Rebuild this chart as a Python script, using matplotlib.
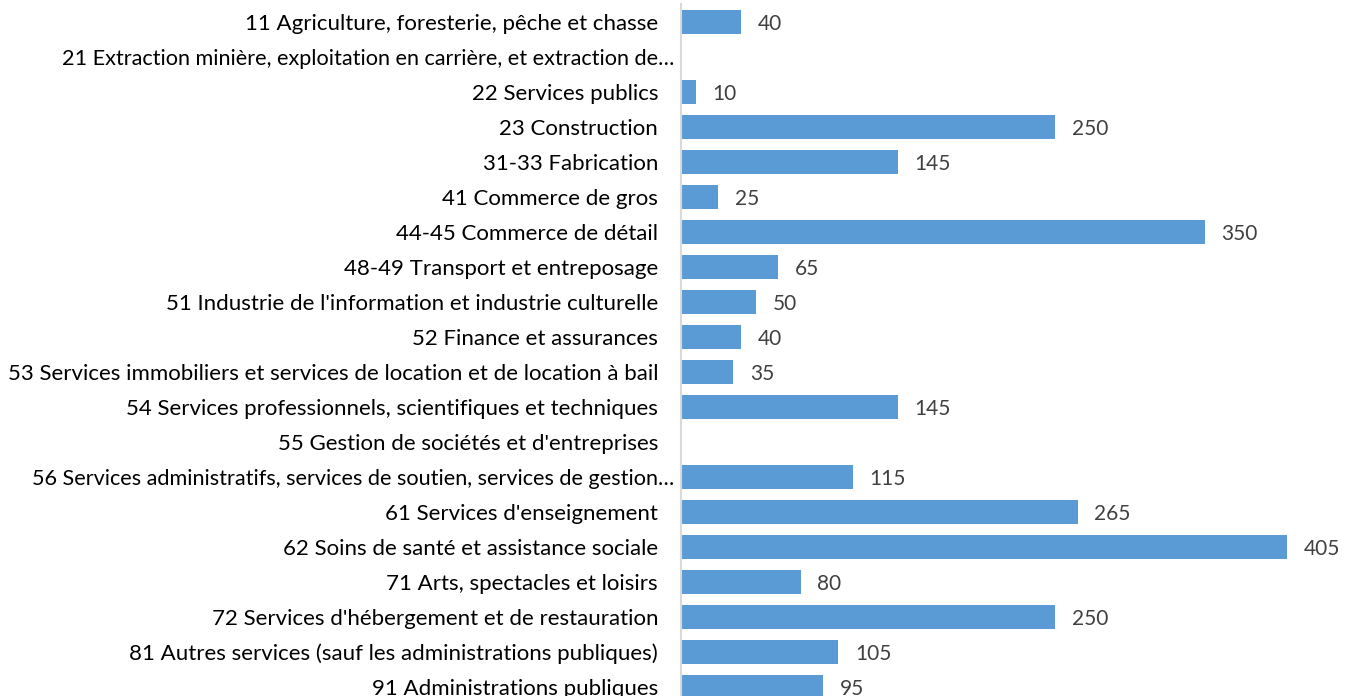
import matplotlib.pyplot as plt
from matplotlib.transforms import offset_copy

plt.rcParams["font.family"] = ["Lato", "DejaVu Sans"]

categories = [
    "11 Agriculture, foresterie, pêche et chasse",
    "21 Extraction minière, exploitation en carrière, et extraction de…",
    "22 Services publics",
    "23 Construction",
    "31-33 Fabrication",
    "41 Commerce de gros",
    "44-45 Commerce de détail",
    "48-49 Transport et entreposage",
    "51 Industrie de l'information et industrie culturelle",
    "52 Finance et assurances",
    "53 Services immobiliers et services de location et de location à bail",
    "54 Services professionnels, scientifiques et techniques",
    "55 Gestion de sociétés et d'entreprises",
    "56 Services administratifs, services de soutien, services de gestion…",
    "61 Services d'enseignement",
    "62 Soins de santé et assistance sociale",
    "71 Arts, spectacles et loisirs",
    "72 Services d'hébergement et de restauration",
    "81 Autres services (sauf les administrations publiques)",
    "91 Administrations publiques",
]
values = [40, None, 10, 250, 145, 25, 350, 65, 50, 40, 35, 145, None, 115,
          265, 405, 80, 250, 105, 95]

W, H = 1349, 696
xmax = 450
px_per_unit = 606 / 405

fig = plt.figure(figsize=(W / 100, H / 100), dpi=100)
ax_left = 681 / W
ax_width = xmax * px_per_unit / W
ax_top = 4.5
ax_bottom = 704.5
ax = fig.add_axes([ax_left, (H - ax_bottom) / H, ax_width, (ax_bottom - ax_top) / H])

ypos = list(range(len(categories)))
bar_vals = [v if v is not None else 0 for v in values]
ax.barh(ypos, bar_vals, height=0.66, color="#5B9BD5")

for y, v in zip(ypos, values):
    if v is None:
        continue
    ax.annotate(str(v), (v, y), xytext=(12, 0), textcoords="offset points",
                va="center_baseline", ha="left", fontsize=15, color="#404040")

# category labels: truncated ones (ending with …) sit a bit further right
for y, lab in zip(ypos, categories):
    truncated = lab.endswith("…")
    dx = -7 if truncated else -23
    tr = offset_copy(ax.get_yaxis_transform(), fig=fig, x=dx, y=0, units="dots")
    ax.text(0, y, lab, transform=tr, ha="right", va="center_baseline",
            fontsize=15.6 if truncated else 16, color="#000000", clip_on=False)

ax.set_xlim(0, xmax)
ax.set_ylim(len(categories) - 0.5, -0.5)
ax.set_yticks([])
ax.set_xticks([])
for s in ["top", "right", "bottom"]:
    ax.spines[s].set_visible(False)
ax.spines["left"].set_color("#d9d9d9")
ax.spines["left"].set_linewidth(1.5)

fig.savefig("out.png", dpi=100)
